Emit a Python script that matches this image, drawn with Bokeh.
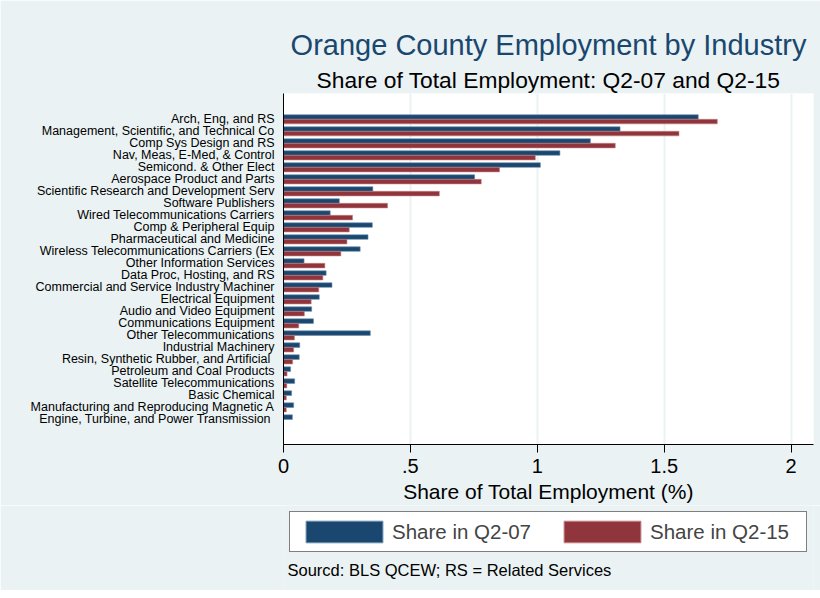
from bokeh.plotting import figure
from bokeh.models import (ColumnDataSource, Range1d, FixedTicker, Title, Legend, LegendItem, Label)
from bokeh.layouts import column
from bokeh.transform import dodge
from bokeh.embed import file_html
from bokeh.resources import INLINE

categories = [
    "Arch, Eng, and RS",
    "Management, Scientific, and Technical Co",
    "Comp Sys Design and RS",
    "Nav, Meas, E-Med, & Control",
    "Semicond. & Other Elect",
    "Aerospace Product and Parts",
    "Scientific Research and Development Serv",
    "Software Publishers",
    "Wired Telecommunications Carriers",
    "Comp & Peripheral Equip",
    "Pharmaceutical and Medicine",
    "Wireless Telecommunications Carriers (Ex",
    "Other Information Services",
    "Data Proc, Hosting, and RS",
    "Commercial and Service Industry Machiner",
    "Electrical Equipment",
    "Audio and Video Equipment",
    "Communications Equipment",
    "Other Telecommunications",
    "Industrial Machinery",
    "Resin, Synthetic Rubber, and Artificial ",
    "Petroleum and Coal Products",
    "Satellite Telecommunications",
    "Basic Chemical",
    "Manufacturing and Reproducing Magnetic A",
    "Engine, Turbine, and Power Transmission ",
]
share_q2_07 = [1.634, 1.326, 1.209, 1.089, 1.012, 0.753, 0.352, 0.220, 0.184, 0.350,
               0.333, 0.302, 0.081, 0.168, 0.191, 0.141, 0.111, 0.118, 0.342, 0.064,
               0.062, 0.028, 0.044, 0.032, 0.040, 0.035]
share_q2_15 = [1.709, 1.558, 1.307, 0.992, 0.851, 0.779, 0.614, 0.410, 0.272, 0.259,
               0.250, 0.226, 0.163, 0.155, 0.139, 0.109, 0.082, 0.060, 0.043, 0.040,
               0.036, 0.014, 0.013, 0.011, 0.011, 0.0]
series_labels = ["Share in Q2-07", "Share in Q2-15"]
x_ticks = [0, 0.5, 1, 1.5, 2]
x_tick_labels = ["0", ".5", "1", "1.5", "2"]

FONT = "Liberation Sans"
BLUE = "#1a476f"
RED = "#90353b"
BLUE_EDGE = "#6b8cab"
RED_EDGE = "#c47f84"
BG = "#eaf2f3"

n = len(categories)
pos = [n - 1 - i for i in range(n)]
src = ColumnDataSource(dict(cat=categories, pos=pos, s07=share_q2_07, s15=share_q2_15))

p = figure(width=820, height=505, output_backend="svg", toolbar_location=None,
           x_range=Range1d(0, 2.088), y_range=Range1d(-2.09, 27.15),
           min_border_left=283, min_border_right=7, min_border_top=93, min_border_bottom=60)
p.background_fill_color = "white"
p.border_fill_color = BG
p.outline_line_color = None

p.hbar(y=dodge("pos", 0.19, range=p.y_range), right="s07", left=0, height=0.38,
       source=src, fill_color=BLUE, line_color=BLUE_EDGE, line_width=0.6)
p.hbar(y=dodge("pos", -0.19, range=p.y_range), right="s15", left=0, height=0.38,
       source=src, fill_color=RED, line_color=RED_EDGE, line_width=0.6)

# x axis
xa = p.xaxis[0]
xa.ticker = FixedTicker(ticks=x_ticks)
xa.major_label_overrides = {t: l for t, l in zip(x_ticks, x_tick_labels)}
xa.axis_label = "Share of Total Employment (%)"
xa.axis_label_text_font = FONT
xa.axis_label_text_font_size = "21px"
xa.axis_label_text_font_style = "normal"
xa.axis_label_text_color = "black"
xa.axis_label_standoff = 4
xa.major_label_text_font = FONT
xa.major_label_text_font_size = "20px"
xa.major_label_text_color = "black"
xa.major_label_standoff = 6
xa.major_tick_out = 8
xa.major_tick_in = 0
xa.minor_tick_line_color = None
xa.axis_line_color = "black"
xa.major_tick_line_color = "black"

# y axis
ya = p.yaxis[0]
ya.ticker = FixedTicker(ticks=pos)
ya.major_label_overrides = {pp: c for pp, c in zip(pos, categories)}
ya.major_label_text_font = FONT
ya.major_label_text_font_size = "12.5px"
ya.major_label_text_color = "black"
ya.major_label_standoff = 3
ya.major_tick_line_color = None
ya.minor_tick_line_color = None
ya.axis_line_color = "black"

p.xgrid.ticker = FixedTicker(ticks=x_ticks)
p.xgrid.grid_line_color = BG
p.xgrid.grid_line_width = 2
p.ygrid.grid_line_color = None

# titles above
p.add_layout(Title(text="Share of Total Employment: Q2-07 and Q2-15", align="center",
                   text_font=FONT, text_font_size="22.8px", text_font_style="normal",
                   text_color="black", standoff=1), "above")
p.add_layout(Title(text="Orange County Employment by Industry", align="center",
                   text_font=FONT, text_font_size="29px", text_font_style="normal",
                   text_color=BLUE, standoff=7), "above")

# legend + source note in a strip below (frame aligned with the main plot's frame)
q = figure(width=820, height=85, output_backend="svg", toolbar_location=None,
           x_range=Range1d(0, 2.088), y_range=Range1d(-2.09, 27.15),
           x_axis_location=None, y_axis_location=None,
           min_border_left=0, min_border_right=0, min_border_top=0, min_border_bottom=0)
q.background_fill_color = BG
q.border_fill_color = BG
q.outline_line_color = None
q.grid.grid_line_color = None
k07 = q.hbar(y="pos", right="s07", left=0, height=0.38, source=src,
             fill_color=BLUE, line_color=BLUE_EDGE, visible=False)
k15 = q.hbar(y="pos", right="s15", left=0, height=0.38, source=src,
             fill_color=RED, line_color=RED_EDGE, visible=False)

legend = Legend(items=[LegendItem(label=series_labels[0], renderers=[k07]),
                       LegendItem(label=series_labels[1], renderers=[k15])],
                orientation="horizontal", location=(6, 38),
                glyph_width=96, glyph_height=27, label_standoff=0, label_width=150,
                spacing=12, padding=6, margin=0,
                label_text_font=FONT, label_text_font_size="20.5px",
                border_line_color="black", border_line_width=1,
                background_fill_color="white", background_fill_alpha=1)
q.add_layout(legend, "center")
q.add_layout(Label(x=4, y=21, x_units="screen", y_units="screen",
                   text="Sourcd: BLS QCEW; RS = Related Services", text_baseline="alphabetic",
                   text_font=FONT, text_font_size="16.5px", text_color="black"))

open("out.html", "w").write(file_html(column(p, q, spacing=0), INLINE))
